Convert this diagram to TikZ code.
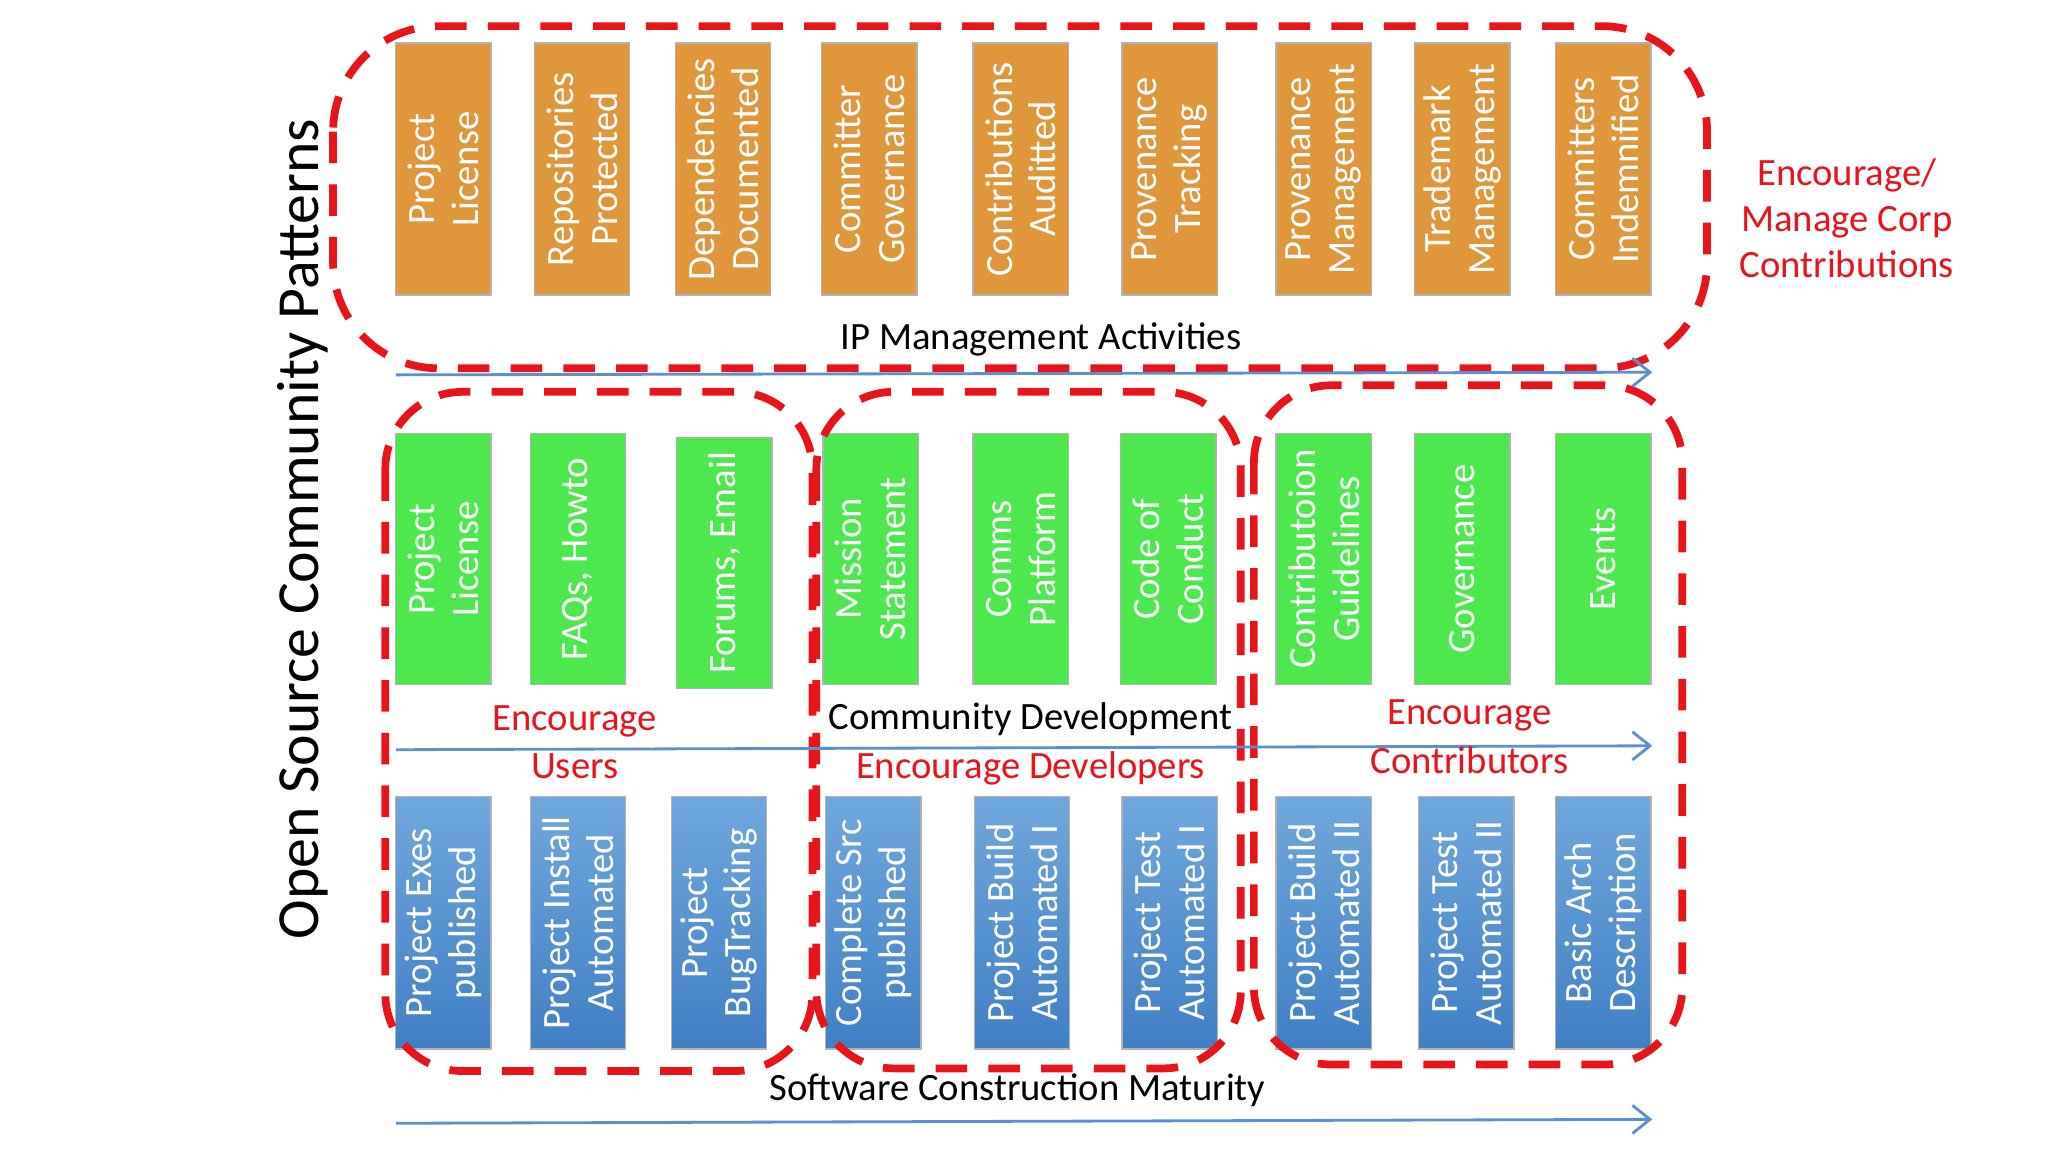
\documentclass[tikz,border=0pt]{standalone}
\usepackage{fontspec}
\setmainfont{Carlito}
\usetikzlibrary{arrows.meta}
\definecolor{org}{HTML}{E0963A}
\definecolor{grn}{HTML}{4DE84D}
\definecolor{bluA}{HTML}{6FA8DC}
\definecolor{bluB}{HTML}{3F7FC4}
\definecolor{rd}{HTML}{E8141B}
\definecolor{arr}{HTML}{5B8FD0}
\begin{document}
\begin{tikzpicture}[x=0.013061cm,y=-0.013061cm,
  btxt/.style={rotate=90,text=white,font=\fontsize{11}{12.5}\selectfont,align=center},
  grp/.style={draw=rd,line width=2.2pt,dash pattern=on 9pt off 6pt,rounded corners=22pt},
  flow/.style={draw=arr,line width=0.8pt,-{Straight Barb[length=5pt,width=8pt]}},
  lbl/.style={font=\fontsize{11}{13}\selectfont,align=center},
  rlbl/.style={lbl,text=rd}]
\useasboundingbox[fill=white] (0,0) rectangle (1568,882);
% orange row
\foreach \x/\t [count=\i] in {303/{Project\\License},409/{Repositories\\Protected},517/{Dependencies\\Documented},629/{Committer\\Governance},745/{Contributions\\Auditted},859/{Provenance\\Tracking},977/{Provenance\\Management},1083/{Trademark\\Management},1191/{Committers\\Indemnified}}{
  \path[fill=org,draw=gray!60] (\x,33) rectangle (\x+73,226);
  \node[btxt] (o\i) at (\x+36.5,129.5) {\t};
}
% green row
\foreach \x/\y/\t [count=\i] in {303/332/{Project\\License},406/332/{FAQs, Howto},518/335/{Forums, Email},630/332/{Mission\\Statement},745/332/{Comms\\Platform},858/332/{Code of\\Conduct},977/332/{Contributoion\\Guidelines},1083/332/{Governance},1191/332/{Events}}{
  \path[fill=grn,draw=gray!60] (\x,\y) rectangle (\x+73,\y+192);
  \node[btxt] (g\i) at (\x+36.5,\y+96) {\t};
}
% blue row
\foreach \x/\t [count=\i] in {303/{Project Exes\\published},406/{Project Install\\Automated},514/{Project\\BugTracking},632/{Complete Src\\published},746/{Project Build\\Automated I},859/{Project Test\\Automated I},977/{Project Build\\Automated II},1086/{Project Test\\Automated II},1191/{Basic Arch\\Description}}{
  \path[top color=bluA,bottom color=bluB,draw=gray!60] (\x,610) rectangle (\x+73,803);
  \node[btxt] (b\i) at (\x+36.5,706.5) {\t};
}
% groups
\draw[grp,rounded corners=30pt] (255,20) rectangle (1307,282);
\draw[grp] (295,300) rectangle (622,820);
\draw[grp] (625,300) rectangle (950,818);
\draw[grp] (960,295) rectangle (1288,815);
% arrows
\coordinate (a1s) at (303,287); \coordinate (a1e) at (1265,285);
\coordinate (a2s) at (303,574); \coordinate (a2e) at (1265,571);
\coordinate (a3s) at (303,860); \coordinate (a3e) at (1265,857);
\draw[flow] (a1s) -- (a1e);
\draw[flow] (a2s) -- (a2e);
\draw[flow] (a3s) -- (a3e);
% labels
\node[lbl] (ip) at (797,260) {IP Management Activities};
\node[lbl] (cd) at (789,551) {Community Development};
\node[lbl] (sc) at (779,835) {Software Construction Maturity};
\node[rlbl] (eu1) at (440,552) {Encourage};
\node[rlbl] (eu2) at (440,587) {Users};
\node[rlbl] (ed) at (789,588) {Encourage Developers};
\node[rlbl] (ec1) at (1125,548) {Encourage};
\node[rlbl] (ec2) at (1125,582) {Contributors};
\node[rlbl,font=\fontsize{11}{13}\selectfont] (emc) at (1414,167) {Encourage/\\Manage Corp\\Contributions};
\node[rotate=90,font=\fontsize{17}{20}\selectfont] (title) at (232,405) {Open Source Community Patterns};
\end{tikzpicture}
\end{document}
